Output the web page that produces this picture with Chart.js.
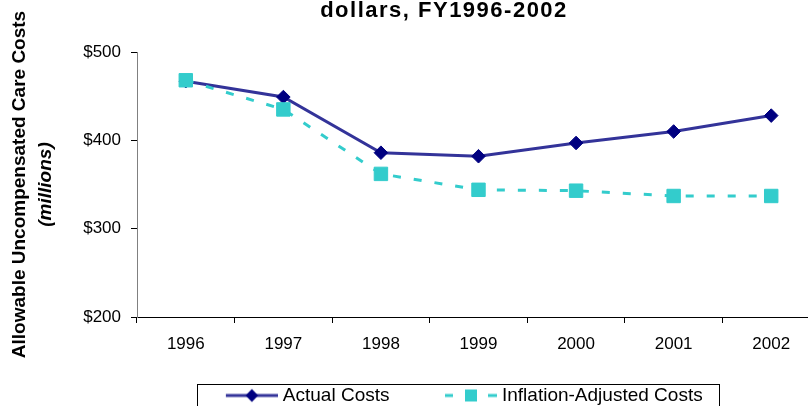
<!DOCTYPE html>
<html>
<head>
<meta charset="utf-8">
<script src="https://cdn.jsdelivr.net/npm/chart.js@4/dist/chart.umd.min.js"></script>
<style>
  html, body { margin: 0; padding: 0; width: 808px; height: 406px; overflow: hidden; background: #ffffff; }
  #wrap { position: relative; width: 888px; height: 415px; }
  canvas { display: block; }
</style>
</head>
<body>
<div id="wrap"><canvas id="chart" width="888" height="415"></canvas></div>
<script>
// Uncompensated care costs, FY1996-2002 ($ millions)
const years = ['1996', '1997', '1998', '1999', '2000', '2001', '2002'];
const actualCosts = [467, 449, 386, 382, 397, 410, 428];
const inflationAdjustedCosts = [468, 435, 362, 344, 343, 337, 337];
const yTickValues = [200, 300, 400, 500];
const seriesNames = ['Actual Costs', 'Inflation-Adjusted Costs'];
const titleText = 'dollars, FY1996-2002';
const yTitleMain = 'Allowable Uncompensated Care Costs';
const yTitleUnit = '(millions)';

const FONT = "'Liberation Sans', Arial, Helvetica, sans-serif";
const NAVY = '#000080';
const NAVY_LINE = '#333399';
const TEAL = '#33CCCC';

// Legend swatches: a short line with the series marker in the middle.
// The swatch sits in the right part of its canvas so it ends just before the text.
const SWATCH_W = 81;
function swatch(draw) {
  const c = document.createElement('canvas');
  c.width = SWATCH_W; c.height = 16;
  const ctx = c.getContext('2d');
  ctx.translate(SWATCH_W - 52, 0);
  draw(ctx);
  return c;
}
const actualSwatch = swatch(ctx => {
  ctx.strokeStyle = NAVY_LINE; ctx.lineWidth = 3;
  ctx.beginPath(); ctx.moveTo(0, 8); ctx.lineTo(52, 8); ctx.stroke();
  ctx.fillStyle = NAVY;
  ctx.beginPath();
  ctx.moveTo(26, 1.5); ctx.lineTo(32.3, 8); ctx.lineTo(26, 14.5); ctx.lineTo(19.7, 8);
  ctx.closePath(); ctx.fill();
});
const inflationSwatch = swatch(ctx => {
  ctx.fillStyle = TEAL;
  ctx.fillRect(0, 6.5, 8, 3);
  ctx.fillRect(20, 2, 12, 12);
  ctx.fillRect(43, 6.5, 9, 3);
});
const swatches = [actualSwatch, inflationSwatch];

// Title drawn with slightly wider tracking.
const titleTracking = {
  id: 'titleTracking',
  afterInit(chart) {
    const tb = chart.titleBlock;
    if (!tb) return;
    const draw = tb.draw.bind(tb);
    tb.draw = function (area) {
      const c = this.ctx;
      c.save();
      c.letterSpacing = '1.5px';
      draw(area);
      c.restore();
    };
  }
};

// Nudge the legend row and frame it with a thin border.
const LEGEND_SHIFT = -26.5;
const legendFrame = {
  id: 'legendFrame',
  afterLayout(chart) {
    const lg = chart.legend;
    if (!lg) return;
    lg.left += LEGEND_SHIFT;
    lg.right += LEGEND_SHIFT;
  },
  afterDraw(chart) {
    const hb = chart.legend && chart.legend.legendHitBoxes;
    if (!hb || !hb.length) return;
    const left = Math.min(...hb.map(h => h.left)) - 4.5;
    const right = Math.max(...hb.map(h => h.left + h.width)) + 16;
    const top = hb[0].top + hb[0].height / 2 - 12;
    const ctx = chart.ctx;
    ctx.save();
    ctx.strokeStyle = '#000000';
    ctx.lineWidth = 1;
    ctx.strokeRect(Math.round(left) + 0.5, Math.round(top) + 0.5, Math.round(right - left), 40);
    ctx.restore();
  }
};

new Chart(document.getElementById('chart'), {
  type: 'line',
  data: {
    labels: years,
    datasets: [
      {
        label: seriesNames[0],
        data: actualCosts,
        borderColor: NAVY_LINE,
        borderWidth: 3,
        tension: 0,
        fill: false,
        pointStyle: 'rectRot',
        pointRadius: 6.8,
        pointBackgroundColor: NAVY,
        pointBorderColor: NAVY,
        pointBorderWidth: 1,
        order: 1
      },
      {
        label: seriesNames[1],
        data: inflationAdjustedCosts,
        borderColor: TEAL,
        borderWidth: 3,
        borderDash: [8, 13],
        borderCapStyle: 'butt',
        tension: 0,
        fill: false,
        pointStyle: 'rect',
        pointRadius: 9.5,
        pointBackgroundColor: TEAL,
        pointBorderColor: TEAL,
        pointBorderWidth: 1,
        order: 0
      }
    ]
  },
  options: {
    responsive: false,
    animation: false,
    devicePixelRatio: 1,
    layout: { padding: 0 },
    plugins: {
      title: {
        display: true,
        text: titleText,
        color: '#000000',
        font: { family: FONT, size: 22, weight: 'bold', lineHeight: 1 },
        padding: { top: 0, bottom: 30 }
      },
      legend: {
        position: 'bottom',
        fullSize: false,
        labels: {
          usePointStyle: true,
          pointStyleWidth: 72,
          padding: 31,
          color: '#000000',
          font: { family: FONT, size: 19 },
          generateLabels: chart => chart.data.datasets.map((ds, i) => ({
            text: ds.label,
            pointStyle: swatches[i],
            datasetIndex: i,
            hidden: false,
            lineWidth: 0,
            fillStyle: 'rgba(0,0,0,0)',
            strokeStyle: 'rgba(0,0,0,0)',
            fontColor: '#000000'
          }))
        }
      },
      tooltip: { enabled: false }
    },
    scales: {
      x: {
        type: 'category',
        offset: true,
        afterFit: s => { s.height = 38; },
        ticks: { color: '#000000', padding: 11, font: { family: FONT, size: 17 }, maxRotation: 0, autoSkip: false },
        grid: { offset: true, drawOnChartArea: false, tickLength: 6, color: '#000000' },
        border: { color: '#000000', width: 1 }
      },
      y: {
        type: 'linear',
        position: 'left',
        weight: 0,
        min: 200,
        max: 500,
        afterBuildTicks: s => { s.ticks = yTickValues.map(v => ({ value: v })); },
        afterFit: s => { s.width = 105; },
        ticks: { color: '#000000', padding: 10, font: { family: FONT, size: 17 }, callback: v => '$' + v },
        grid: { drawOnChartArea: false, tickLength: 6, color: '#000000' },
        border: { color: '#808080', width: 1 },
        title: {
          display: true,
          text: yTitleUnit,
          color: '#000000',
          font: { family: FONT, size: 19, weight: 'bold', style: 'italic', lineHeight: 1.2 },
          padding: { top: 2, bottom: 0 }
        }
      },
      yOuter: {
        type: 'linear',
        position: 'left',
        weight: 1,
        display: true,
        afterFit: s => { s.width = 32; },
        ticks: { display: false },
        grid: { display: false, drawTicks: false },
        border: { display: false },
        title: {
          display: true,
          text: yTitleMain,
          color: '#000000',
          font: { family: FONT, size: 19, weight: 'bold', lineHeight: 1.2 },
          padding: { top: 8.6, bottom: 0 }
        }
      },
      yRight: {
        type: 'linear',
        position: 'right',
        display: true,
        afterFit: s => { s.width = 68; },
        ticks: { display: false },
        grid: { display: false, drawTicks: false },
        border: { display: false }
      }
    }
  },
  plugins: [titleTracking, legendFrame]
});
</script>
</body>
</html>
